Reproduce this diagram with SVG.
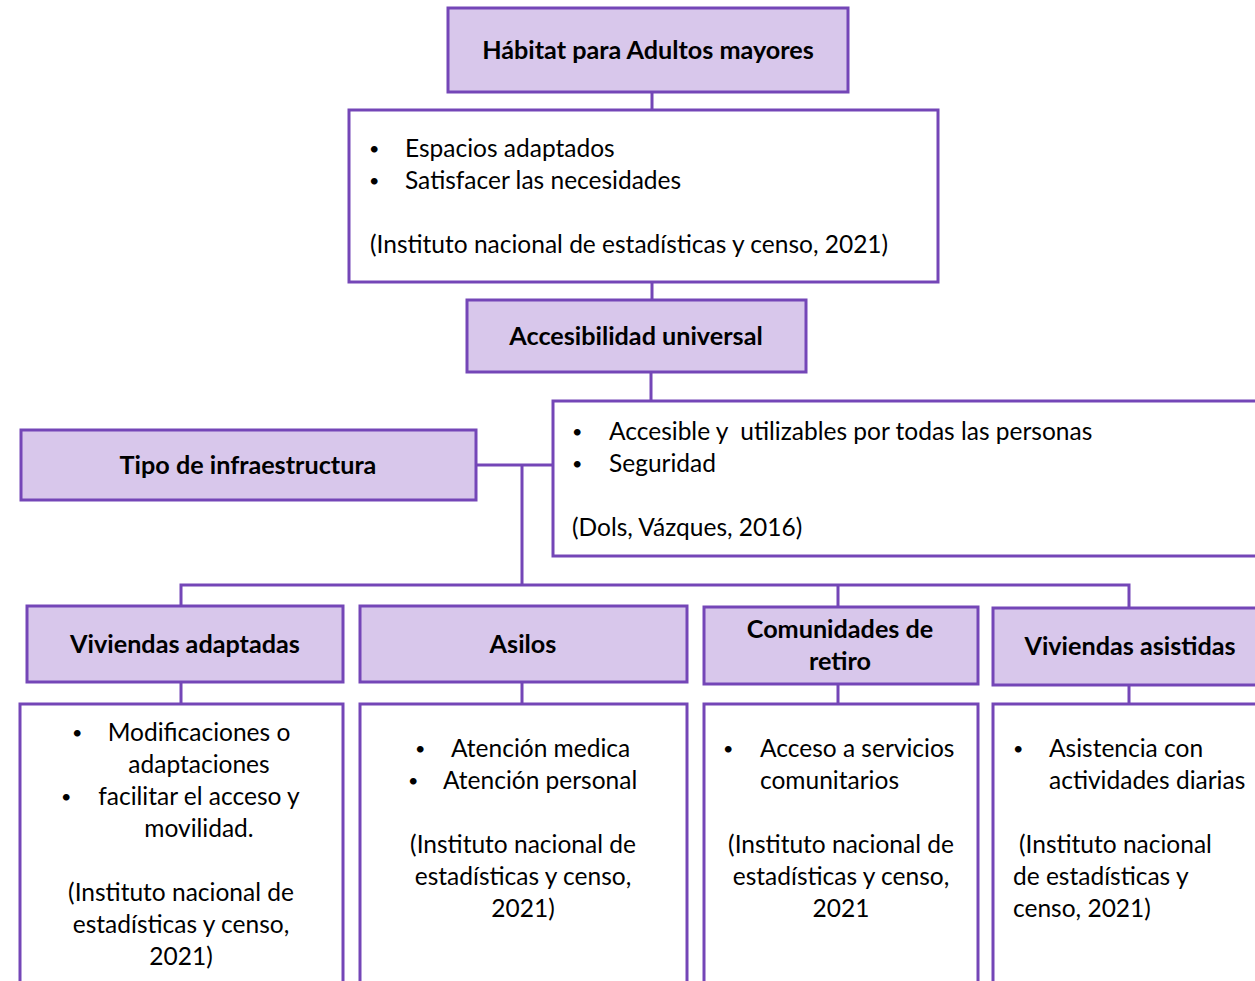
<svg xmlns="http://www.w3.org/2000/svg" width="1255" height="981" viewBox="0 0 1255 981">
<style>
.h{fill:#d8c7eb;stroke:#7446b7;stroke-width:3}
.w{fill:#ffffff;stroke:#7446b7;stroke-width:3}
.c{fill:none;stroke:#7446b7;stroke-width:3}
text{font-family:Lato,"Open Sans","Liberation Sans",sans-serif;font-size:24.5px;fill:#000}
.b{font-weight:bold;font-size:25.2px}
.m{text-anchor:middle}
.d{font-size:18px}
.p{white-space:pre}
</style>
<rect width="1255" height="981" fill="#ffffff"/>
<g id="connectors">
<path class="c" d="M652 92V110M652 282V300M651 372V401M476 465H553M522 465V585M181 606V585H1129V608M838 585V607M181 682V704M522 682V704M838 684V704M1129 685V704"/>
</g>
<g id="habitat"><rect class="h" x="448" y="8" width="400" height="84"/><text class="b m" x="648" y="59">Hábitat para Adultos mayores</text></g>
<g id="habitat-desc"><rect class="w" x="349" y="110" width="589" height="172"/>
<text class="d" x="369" y="155">•</text><text x="405" y="157">Espacios adaptados</text>
<text class="d" x="369" y="187">•</text><text x="405" y="189">Satisfacer las necesidades</text>
<text x="370" y="253">(Instituto nacional de estadísticas y censo, 2021)</text></g>
<g id="accesibilidad"><rect class="h" x="467" y="300" width="339" height="72"/><text class="b m" x="636" y="345">Accesibilidad universal</text></g>
<g id="accesibilidad-desc"><rect class="w" x="553" y="401" width="710" height="155"/>
<text class="d" x="572" y="438">•</text><text class="p" x="609" y="440" xml:space="preserve">Accesible y  utilizables por todas las personas</text>
<text class="d" x="572" y="470">•</text><text x="609" y="472">Seguridad</text>
<text x="572" y="536">(Dols, Vázques, 2016)</text></g>
<g id="tipo"><rect class="h" x="21" y="430" width="455" height="70"/><text class="b m" x="248" y="474">Tipo de infraestructura</text></g>
<g id="viviendas-adaptadas"><rect class="h" x="27" y="606" width="316" height="76"/><text class="b m" x="185" y="653">Viviendas adaptadas</text></g>
<g id="asilos"><rect class="h" x="360" y="606" width="327" height="76"/><text class="b m" x="523" y="653">Asilos</text></g>
<g id="comunidades"><rect class="h" x="704" y="607" width="274" height="77"/><text class="b m" x="840" y="638">Comunidades de</text><text class="b m" x="840" y="670">retiro</text></g>
<g id="viviendas-asistidas"><rect class="h" x="993" y="608" width="270" height="77"/><text class="b m" x="1130" y="655">Viviendas asistidas</text></g>
<g id="viviendas-adaptadas-desc"><rect class="w" x="20" y="704" width="323" height="290"/>
<text class="d" x="72" y="739">•</text><text class="m" x="199" y="741">Modificaciones o</text>
<text class="m" x="199" y="773">adaptaciones</text>
<text class="d" x="61" y="803">•</text><text class="m" x="199" y="805">facilitar el acceso y</text>
<text class="m" x="199" y="837">movilidad.</text>
<text class="m" x="181" y="901">(Instituto nacional de</text>
<text class="m" x="181" y="933">estadísticas y censo,</text>
<text class="m" x="181" y="965">2021)</text></g>
<g id="asilos-desc"><rect class="w" x="360" y="704" width="327" height="290"/>
<text class="d" x="415" y="755">•</text><text x="451" y="757">Atención medica</text>
<text class="d" x="408" y="787">•</text><text x="443" y="789">Atención personal</text>
<text class="m" x="523" y="853">(Instituto nacional de</text>
<text class="m" x="523" y="885">estadísticas y censo,</text>
<text class="m" x="523" y="917">2021)</text></g>
<g id="comunidades-desc"><rect class="w" x="704" y="704" width="274" height="290"/>
<text class="d" x="723" y="755">•</text><text x="760" y="757">Acceso a servicios</text>
<text x="760" y="789">comunitarios</text>
<text class="m" x="841" y="853">(Instituto nacional de</text>
<text class="m" x="841" y="885">estadísticas y censo,</text>
<text class="m" x="841" y="917">2021</text></g>
<g id="viviendas-asistidas-desc"><rect class="w" x="993" y="704" width="270" height="290"/>
<text class="d" x="1013" y="755">•</text><text x="1049" y="757">Asistencia con</text>
<text x="1049" y="789">actividades diarias</text>
<text x="1019" y="853">(Instituto nacional</text>
<text x="1013" y="885">de estadísticas y</text>
<text x="1013" y="917">censo, 2021)</text></g>
</svg>
